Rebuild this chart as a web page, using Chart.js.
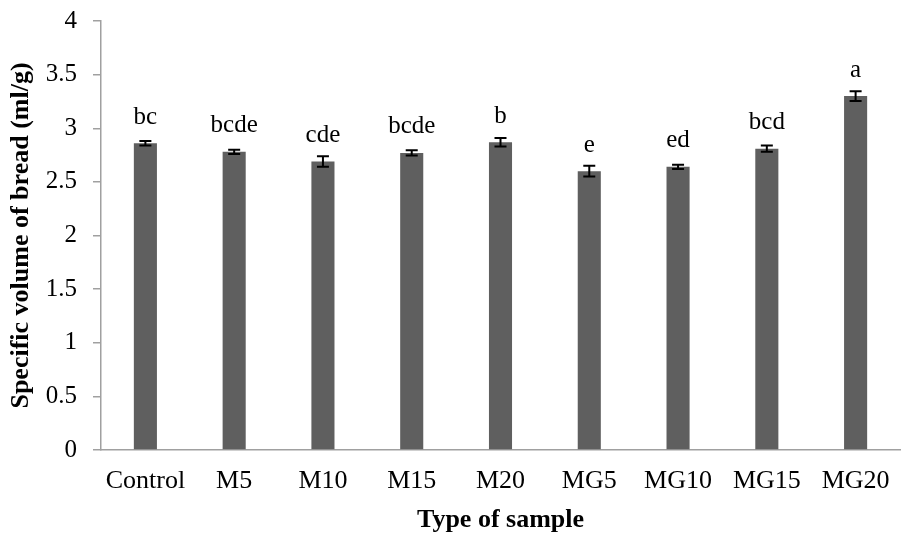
<!DOCTYPE html>
<html>
<head>
<meta charset="utf-8">
<script src="https://cdn.jsdelivr.net/npm/chart.js@4.4.1/dist/chart.umd.min.js"></script>
<style>
html,body{margin:0;padding:0;background:#fff;}
#wrap{width:901px;height:536px;}
</style>
</head>
<body>
<div id="wrap"><canvas id="c" width="901" height="536"></canvas></div>
<script>
const categories = ['Control','M5','M10','M15','M20','MG5','MG10','MG15','MG20'];
const values = [2.86, 2.78, 2.69, 2.77, 2.87, 2.60, 2.64, 2.81, 3.30];
const errors = [0.02, 0.02, 0.05, 0.025, 0.04, 0.05, 0.02, 0.03, 0.045];
const letters = ['bc','bcde','cde','bcde','b','e','ed','bcd','a'];
const yTicks = [0, 0.5, 1, 1.5, 2, 2.5, 3, 3.5, 4];

const SERIF = '"Liberation Serif", "Times New Roman", serif';

const annot = {
  id: 'annot',
  afterDatasetsDraw(chart) {
    const ctx = chart.ctx;
    const ys = chart.scales.y;
    const meta = chart.getDatasetMeta(0);
    ctx.save();
    meta.data.forEach((bar, i) => {
      const x = bar.x;
      const yt = ys.getPixelForValue(values[i] + errors[i]);
      const yb = ys.getPixelForValue(values[i] - errors[i]);
      ctx.strokeStyle = '#000';
      ctx.lineWidth = 2;
      ctx.beginPath();
      ctx.moveTo(x, yt); ctx.lineTo(x, yb);
      ctx.moveTo(x - 6, yt); ctx.lineTo(x + 6, yt);
      ctx.moveTo(x - 6, yb); ctx.lineTo(x + 6, yb);
      ctx.stroke();
      ctx.fillStyle = '#000';
      ctx.font = '25px ' + SERIF;
      ctx.textAlign = 'center';
      ctx.textBaseline = 'middle';
      ctx.fillText(letters[i], x, ys.getPixelForValue(values[i]) - 26);
    });
    ctx.restore();
  }
};

new Chart(document.getElementById('c'), {
  type: 'bar',
  data: {
    labels: categories,
    datasets: [{
      data: values,
      backgroundColor: '#5f5f5f',
      borderWidth: 0,
      barPercentage: 0.26,
      categoryPercentage: 1.0
    }]
  },
  options: {
    responsive: false,
    animation: false,
    layout: { padding: { top: 21, right: 1, left: 0, bottom: 0 } },
    plugins: { legend: { display: false }, tooltip: { enabled: false } },
    scales: {
      x: {
        grid: { display: false, drawTicks: false },
        border: { display: true, color: '#a0a0a0', width: 1.5 },
        ticks: { color: '#000', font: { family: SERIF, size: 26 }, padding: 16, maxRotation: 0, autoSkip: false },
        title: { display: true, text: 'Type of sample', color: '#000', font: { family: SERIF, size: 26, weight: 'bold' }, padding: { top: 0, bottom: 0 } },
        afterFit(s) { s.height = 86; s.paddingLeft = 0; s.paddingRight = 0; }
      },
      y: {
        min: 0, max: 4,
        afterBuildTicks(s) { s.ticks = yTicks.map(v => ({ value: v })); },
        grid: { drawOnChartArea: false, drawTicks: true, tickLength: 8, color: '#a0a0a0', lineWidth: 1.5 },
        border: { display: true, color: '#a0a0a0', width: 1.5 },
        ticks: { color: '#000', font: { family: SERIF, size: 25 }, padding: 16, callback: (v) => String(v) },
        title: { display: true, text: 'Specific volume of bread (ml/g)', color: '#000', font: { family: SERIF, size: 26, weight: 'bold' }, padding: { top: 6, bottom: 0 } },
        afterFit(s) { s.width = 101; s.paddingTop = 0; s.paddingBottom = 0; }
      }
    }
  },
  plugins: [annot]
});
</script>
</body>
</html>
